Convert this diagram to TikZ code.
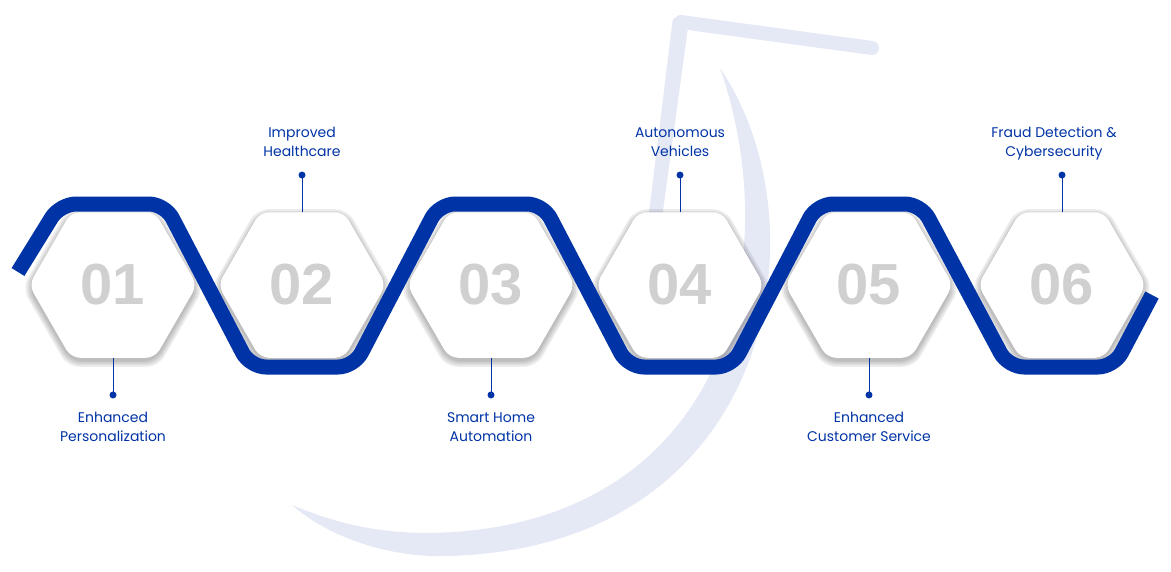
\documentclass[tikz,border=0pt]{standalone}
\usepackage{fontspec}
\setmainfont{Poppins}
\newfontfamily\numfont{Liberation Sans}
\usetikzlibrary{shapes.geometric}
\definecolor{wave_blue}{RGB}{0, 51, 166}
\definecolor{bg_lilac}{RGB}{229, 232, 245}
\definecolor{num_gray}{RGB}{208, 208, 208}

\tikzset{
  hexbox/.style={regular polygon, regular polygon sides=6, minimum size=168pt,
    inner sep=0pt, fill=white, rounded corners=9pt,
    font=\numfont\bfseries\fontsize{58}{58}\selectfont, text=num_gray},
  hexshade/.style={regular polygon, regular polygon sides=6, minimum size=#1,
    inner sep=0pt, fill=black, opacity=0.07, rounded corners=12pt},
  wave/.style={line width=15pt, wave_blue, rounded corners=16pt},
  stick/.style={wave_blue, line width=0.8pt},
  lbl/.style={align=center, text=wave_blue, font=\fontsize{14}{19}\selectfont, inner sep=0pt},
}

\begin{document}
\begin{tikzpicture}[x=1pt, y=-1pt]
\useasboundingbox (0,0) rectangle (1171,571);

% the big five behind
\fill[bg_lilac, rounded corners=4pt] (673,17) -- (689,20) -- (656,262) -- (643,262) -- cycle;
\draw[bg_lilac, line width=14pt, line cap=round] (681,22) -- (872,48);
\fill[bg_lilac] (720,68) .. controls (830,230) and (770,560) .. (430,556)
  .. controls (370,553) and (320,530) .. (292,505)
  .. controls (340,525) and (380,533) .. (430,533)
  .. controls (720,528) and (790,270) .. (720,68) -- cycle;

% hexagons with a soft shadow
\foreach \i/\x in {1/113, 2/302, 3/491, 4/680, 5/869, 6/1062} {
  \foreach \s in {170pt,174pt,178pt,182pt}
    \node[hexshade=\s] at (\x,288) {};
  \node[hexbox] (h\i) at (\x,285) {0\i};
}

% the wave
\draw[wave] (18,272) -- (60,204) -- (165,204) -- (250,367) -- (354,367)
  -- (439,204) -- (543,204) -- (628,367) -- (732,367) -- (817,204)
  -- (921,204) -- (1008,367) -- (1114,367) -- (1152,295);

% labels below
\foreach \i/\txt in {1/{Enhanced\\Personalization}, 3/{Smart Home\\Automation}, 5/{Enhanced\\Customer Service}} {
  \coordinate (d\i) at ([yshift=-37pt]h\i.south);
  \draw[stick] (h\i.south) -- (d\i);
  \fill[wave_blue] (d\i) circle (3.5pt);
  \node[lbl, anchor=north] (t\i) at ([yshift=-17pt]d\i) {\txt};
}
% labels above
\foreach \i/\txt/\dx in {2/{Improved\\Healthcare}/0, 4/{Autonomous\\Vehicles}/0, 6/{Fraud Detection \&\\Cybersecurity}/-8} {
  \coordinate (d\i) at ([yshift=37pt]h\i.north);
  \draw[stick] (h\i.north) -- (d\i);
  \fill[wave_blue] (d\i) circle (3.5pt);
  \node[lbl, anchor=base] (t\i) at ([xshift=\dx pt, yshift=19pt]d\i) {\txt};
}

\end{tikzpicture}
\end{document}
